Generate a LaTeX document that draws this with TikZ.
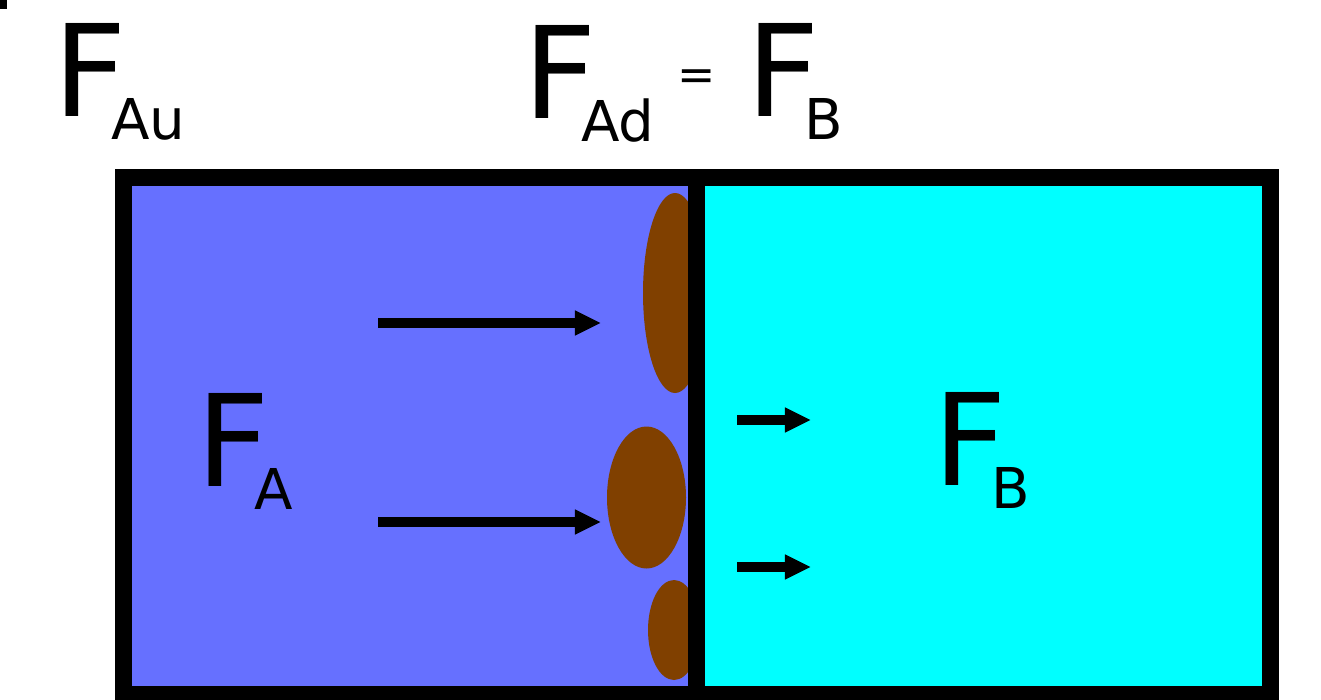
\documentclass[tikz,border=0pt]{standalone}
\usepackage{fontspec}
\setmainfont{DejaVu Sans}
\usetikzlibrary{arrows.meta}
\definecolor{cellA}{RGB}{102,112,255}
\definecolor{cellB}{RGB}{0,255,255}
\definecolor{blob}{RGB}{128,64,0}
\newcommand{\Fsub}[1]{F\kern-4.5pt\raisebox{-6.8pt}{\fontsize{16}{16}\selectfont #1}}
\tikzset{
  wall/.style={line width=4.84pt,line join=miter},
  flow/.style={line width=2.6pt,-{Triangle[length=7.4pt,width=6.6pt]}},
  lbl/.style={inner sep=0pt,anchor=base west,font=\fontsize{36.3}{40}\selectfont},
  deposit/.style={fill=blob}
}

\begin{document}
\begin{tikzpicture}[x=0.01cm,y=-0.01cm]
    \useasboundingbox (0,0) rectangle (1321,700);
    \fill (0,0) rectangle (7,9);
    % the two compartments
    \fill[cellA] (115,169) rectangle (696.5,703);
    \fill[cellB] (696.5,169) rectangle (1279,703);
    % deposits on the left side of the wall
    \begin{scope}
      \clip (132,186) rectangle (688,686);
      \fill[deposit] (675,293) ellipse [x radius=32,y radius=100];
      \fill[deposit] (646.5,497.5) ellipse [x radius=39.5,y radius=71];
      \fill[deposit] (674,630) ellipse [x radius=26,y radius=50];
    \end{scope}
    \draw[wall] (123.5,177.5) rectangle (1270.5,694.5);
    \draw[wall] (696.5,169) -- (696.5,703);
    % fluxes
    \draw[flow] (378,323) -- (601,323);
    \draw[flow] (378,522) -- (601,522);
    \draw[flow] (737,420) -- (811,420);
    \draw[flow] (737,567) -- (811,567);
    % labels
    \node[lbl] (fau) at (53,116) {\Fsub{Au}};
    \node[lbl] (fad) at (523,118) {\Fsub{Ad}};
    \node[inner sep=0pt,font=\fontsize{13}{13}\selectfont] (eq) at (697,80) {=};
    \node[lbl] (fbtop) at (746,116) {\Fsub{B}};
    \node[lbl] (fa) at (196,486) {\Fsub{A}};
    \node[lbl] (fb) at (933,485) {\Fsub{B}};
\end{tikzpicture}
\end{document}
